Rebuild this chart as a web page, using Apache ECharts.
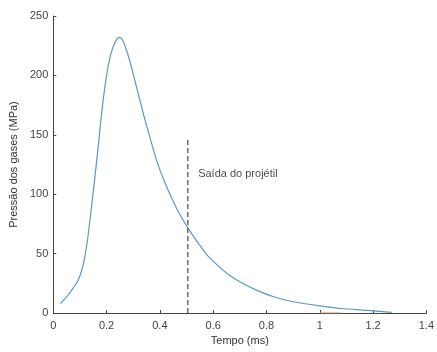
<!DOCTYPE html>
<html>
<head>
<meta charset="utf-8">
<script src="https://cdn.jsdelivr.net/npm/echarts@6/dist/echarts.min.js"></script>
<style>
html, body { margin: 0; padding: 0; background: #fff; }
#chart { width: 437px; height: 352px; }
</style>
</head>
<body>
<div id="chart"></div>
<script>
// tempo (ms) e pressão (MPa)
var tempo   = [0.027, 0.05, 0.07, 0.092, 0.105, 0.117, 0.13, 0.148, 0.16, 0.17, 0.179, 0.19, 0.203, 0.215, 0.228, 0.24, 0.25, 0.26, 0.275, 0.29, 0.315, 0.34, 0.365, 0.39, 0.415, 0.44, 0.47, 0.507, 0.54, 0.58, 0.62, 0.66, 0.71, 0.76, 0.83, 0.9, 1.0, 1.08, 1.18, 1.246, 1.27];
var pressao = [8, 13.5, 19.5, 27, 34.5, 45.5, 64, 98, 122, 143, 163, 184, 204, 217, 226, 231, 232, 230, 221, 210, 188, 166, 146, 127, 112, 99, 85, 71, 60, 48, 39.5, 32, 25, 19.5, 13.5, 9.5, 6, 3.8, 2.2, 1, 0.5];
var saidaT = 0.505;
var saidaP = [0, 147];
var xTicks = [0, 1.4, 0.2];
var yTicks = [0, 250, 50];

var curva = [];
for (var i = 0; i < tempo.length; i++) {
	curva.push([tempo[i], pressao[i]]);
}

var myChart = echarts.init(document.getElementById('chart'));
var fonte = 'Liberation Sans';
var option = {
	animation: false,
	backgroundColor: '#fff',
	grid: {left: 52, right: 9, top: 16, bottom: 39},
	xAxis: {
		type: 'value', min: xTicks[0], max: xTicks[1], interval: xTicks[2],
		name: 'Tempo (ms)', nameLocation: 'middle', nameGap: 21,
		nameTextStyle: {color: '#333', fontSize: 11, fontFamily: fonte},
		axisLine: {show: true, onZero: false, lineStyle: {color: '#444', width: 1}},
		axisTick: {show: true, inside: true, length: 3, lineStyle: {color: '#444'}},
		axisLabel: {color: '#444', fontSize: 11, fontFamily: fonte, margin: 7},
		splitLine: {show: false}
	},
	yAxis: {
		type: 'value', min: yTicks[0], max: yTicks[1], interval: yTicks[2],
		name: 'Pressão dos gases (MPa)', nameLocation: 'middle', nameGap: 27,
		nameTextStyle: {color: '#333', fontSize: 11, fontFamily: fonte},
		axisLine: {show: true, lineStyle: {color: '#444', width: 1}},
		axisTick: {show: true, inside: true, length: 3, lineStyle: {color: '#444'}},
		axisLabel: {color: '#444', fontSize: 11, fontFamily: fonte, margin: 5},
		splitLine: {show: false}
	},
	series: [
		{type: 'line', data: curva, smooth: 0.2, showSymbol: false, silent: true,
			lineStyle: {color: '#5c98c4', width: 1.2}},
		{type: 'line', data: [[1.0, 0], [1.08, 0]], showSymbol: false, silent: true,
			lineStyle: {color: '#f08a6a', width: 1.2}},
		{type: 'line', data: [[saidaT, saidaP[0]], [saidaT, saidaP[1]]], showSymbol: false, silent: true,
			lineStyle: {color: '#444', width: 1.2, type: [5, 3]}},
		{type: 'scatter', data: [[0.54, 117]], symbolSize: 0, silent: true,
			label: {show: true, position: 'right', offset: [-4, 0], formatter: 'Saída do projétil',
				color: '#222', fontSize: 11, fontFamily: fonte}}
	]
};
myChart.setOption(option);
</script>
</body>
</html>
